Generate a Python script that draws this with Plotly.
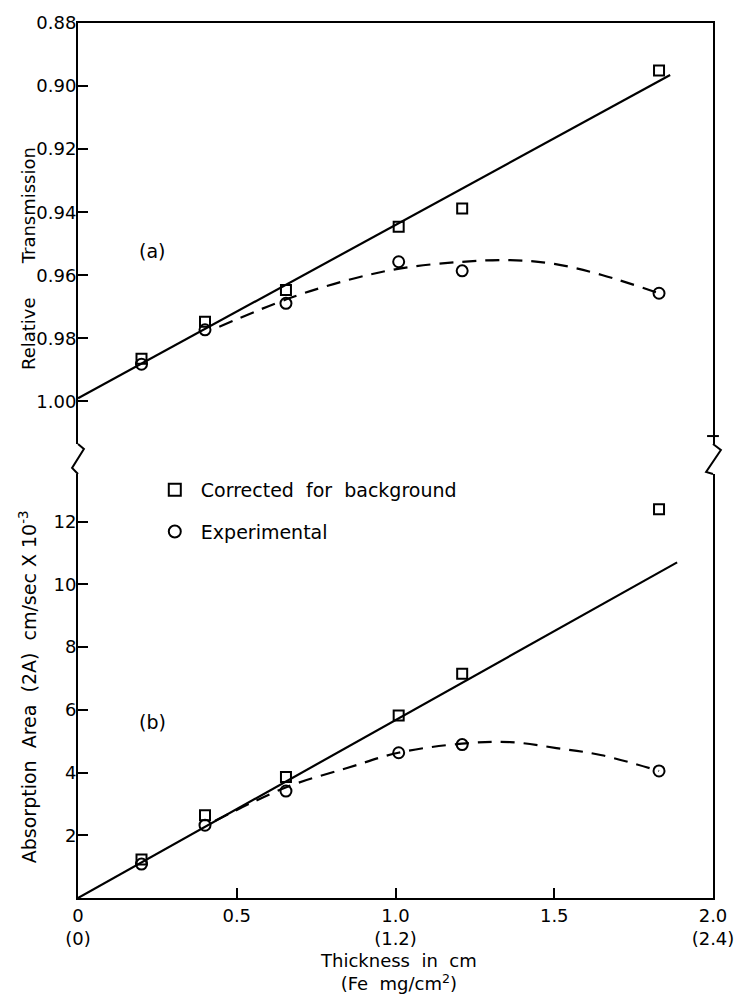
import plotly.graph_objects as go

# ---------------- data ----------------
thickness = [0.20, 0.40, 0.655, 1.01, 1.21, 1.83]

# (a) relative transmission
trans_corrected = [0.9865, 0.9747, 0.9647, 0.9446, 0.9388, 0.8951]
trans_experimental = [0.9882, 0.9773, 0.9689, 0.9557, 0.9586, 0.9657]
trans_fit_x = [0.0, 1.865]
trans_fit_y = [0.9990, 0.8965]
trans_curve_x = [0.445, 0.665, 0.85, 1.017, 1.2, 1.361, 1.5, 1.65, 1.83]
trans_curve_y = [0.9763, 0.9673, 0.9615, 0.9578, 0.9558, 0.9552, 0.9564, 0.9599, 0.9657]

# (b) absorption area
area_corrected = [1.23, 2.64, 3.86, 5.82, 7.15, 12.39]
area_experimental = [1.08, 2.32, 3.41, 4.63, 4.89, 4.05]
area_fit_x = [0.0, 1.887]
area_fit_y = [0.0, 10.70]
area_curve_x = [0.432, 0.658, 0.85, 1.009, 1.209, 1.361, 1.507, 1.65, 1.83]
area_curve_y = [2.46, 3.54, 4.15, 4.63, 4.92, 4.97, 4.78, 4.55, 4.05]

x_tickvals = [0, 0.5, 1.0, 1.5, 2.0]
x_ticktext = ["0<br>(0)", "0.5", "1.0<br>(1.2)", "1.5", "2.0<br>(2.4)"]
top_tickvals = [0.88, 0.90, 0.92, 0.94, 0.96, 0.98, 1.00]
bot_tickvals = [2, 4, 6, 8, 10, 12]

# ---------------- layout geometry ----------------
W, H = 746, 1003
L, R, T, B = 78, 23, 21, 105
PW, PH = W - L - R, H - T - B
y_plot_bottom = H - B


def xp(px):
    return (px - L) / PW


def yp(py):
    return (y_plot_bottom - py) / PH


top_dom = [yp(443), 1.0]
bot_dom = [0.0, yp(473)]

FONT = "DejaVu Sans"
BLACK = "black"
NB = "\u00a0"

fig = go.Figure()

marker_sq = dict(symbol="square-open", size=10, color=BLACK, line=dict(width=2, color=BLACK))
marker_ci = dict(symbol="circle-open", size=11, color=BLACK, line=dict(width=2, color=BLACK))

# top panel
fig.add_trace(go.Scatter(x=trans_fit_x, y=trans_fit_y, mode="lines", xaxis="x2", yaxis="y2",
                         line=dict(color=BLACK, width=2.2), showlegend=False))
fig.add_trace(go.Scatter(x=trans_curve_x, y=trans_curve_y, mode="lines", xaxis="x2", yaxis="y2",
                         line=dict(color=BLACK, width=2.2, dash="14px,9px", shape="spline"),
                         showlegend=False))
fig.add_trace(go.Scatter(x=thickness, y=trans_corrected, mode="markers", xaxis="x2", yaxis="y2",
                         marker=marker_sq, name=NB + "Corrected  for  background",
                         legendgroup="a", showlegend=True))
fig.add_trace(go.Scatter(x=thickness, y=trans_experimental, mode="markers", xaxis="x2", yaxis="y2",
                         marker=marker_ci, name=NB + "Experimental", legendgroup="b", showlegend=True))

# bottom panel
fig.add_trace(go.Scatter(x=area_fit_x, y=area_fit_y, mode="lines", xaxis="x", yaxis="y",
                         line=dict(color=BLACK, width=2.2), showlegend=False))
fig.add_trace(go.Scatter(x=area_curve_x, y=area_curve_y, mode="lines", xaxis="x", yaxis="y",
                         line=dict(color=BLACK, width=2.2, dash="14px,9px", shape="spline"),
                         showlegend=False))
fig.add_trace(go.Scatter(x=thickness, y=area_corrected, mode="markers", xaxis="x", yaxis="y",
                         marker=marker_sq, showlegend=False))
fig.add_trace(go.Scatter(x=thickness, y=area_experimental, mode="markers", xaxis="x", yaxis="y",
                         marker=marker_ci, showlegend=False))

axis_common = dict(showgrid=False, zeroline=False, linecolor=BLACK, linewidth=2,
                   tickcolor=BLACK, tickwidth=2, ticklen=10,
                   tickfont=dict(family=FONT, size=18, color=BLACK))

fig.update_layout(
    width=W, height=H,
    margin=dict(l=L, r=R, t=T, b=B, pad=0),
    paper_bgcolor="white", plot_bgcolor="white",
    font=dict(family=FONT, size=18, color=BLACK),
    xaxis=dict(domain=[0, 1], anchor="y", range=[0, 2.0], tickvals=x_tickvals, ticktext=x_ticktext,
               showline=True, mirror=False, ticks="inside", **axis_common),
    xaxis2=dict(domain=[0, 1], anchor="y2", matches="x", side="top", range=[0, 2.0],
                showline=True, showticklabels=False, ticks="", **axis_common),
    yaxis=dict(domain=bot_dom, anchor="x", range=[0, (y_plot_bottom - 473) / ((898 - 520.7) / 12)],
               tickvals=bot_tickvals, showline=True, mirror=True, ticks="inside",
               ticklabelstandoff=-4, **axis_common),
    yaxis2=dict(domain=top_dom, anchor="x2",
                range=[0.88 + (443 - 21) / ((400 - 20.7) / 0.12), 0.88],
                tickvals=top_tickvals, tickformat=".2f", showline=True, mirror=True,
                ticks="inside", ticklabelstandoff=-4, **axis_common),
    legend=dict(x=xp(156), y=yp(470), xanchor="left", yanchor="top",
                bgcolor="rgba(0,0,0,0)", font=dict(family=FONT, size=19, color=BLACK),
                tracegroupgap=14, itemsizing="constant"),
)

ann_font = dict(family=FONT, size=19, color=BLACK)

# panel labels
fig.add_annotation(x=xp(153), y=yp(250), xref="paper", yref="paper", text="(a)", showarrow=False,
                   xanchor="center", yanchor="middle", font=ann_font)
fig.add_annotation(x=xp(154), y=yp(722), xref="paper", yref="paper", text="(b)", showarrow=False,
                   xanchor="center", yanchor="middle", font=ann_font)

# axis titles
fig.add_annotation(x=xp(28), y=yp(332), xref="paper", yref="paper", text="Relative", textangle=-90,
                   xanchor="center", yanchor="middle", showarrow=False,
                   font=dict(family=FONT, size=18, color=BLACK))
fig.add_annotation(x=xp(28), y=yp(204), xref="paper", yref="paper", text="Transmission", textangle=-90,
                   xanchor="center", yanchor="middle", showarrow=False,
                   font=dict(family=FONT, size=18, color=BLACK))
fig.add_annotation(x=xp(28), y=yp(686), xref="paper", yref="paper",
                   text="Absorption  Area  (2A)  cm/sec X 10<sup>-3</sup>", textangle=-90,
                   xanchor="center", yanchor="middle", showarrow=False,
                   font=dict(family=FONT, size=19, color=BLACK))
fig.add_annotation(x=xp(404), y=yp(972), xref="paper", yref="paper",
                   text="Thickness  in  cm<br>(Fe  mg/cm<sup>2</sup>)",
                   xanchor="center", yanchor="middle", showarrow=False,
                   font=dict(family=FONT, size=18, color=BLACK))


# axis breaks (zig-zags)
def zig(points):
    return "M " + " L ".join(f"{xp(a)},{yp(b)}" for a, b in points)


fig.add_shape(type="path", xref="paper", yref="paper",
              path=zig([(78, 443), (84, 448), (72, 467), (78, 473)]),
              line=dict(color=BLACK, width=2))
fig.add_shape(type="path", xref="paper", yref="paper",
              path=zig([(723, 443), (731, 449), (716, 471), (723, 473)]),
              line=dict(color=BLACK, width=2))
fig.add_shape(type="line", xref="paper", yref="paper", x0=xp(717), x1=xp(729), y0=yp(435), y1=yp(435),
              line=dict(color=BLACK, width=2))

fig.write_html("out.html")
